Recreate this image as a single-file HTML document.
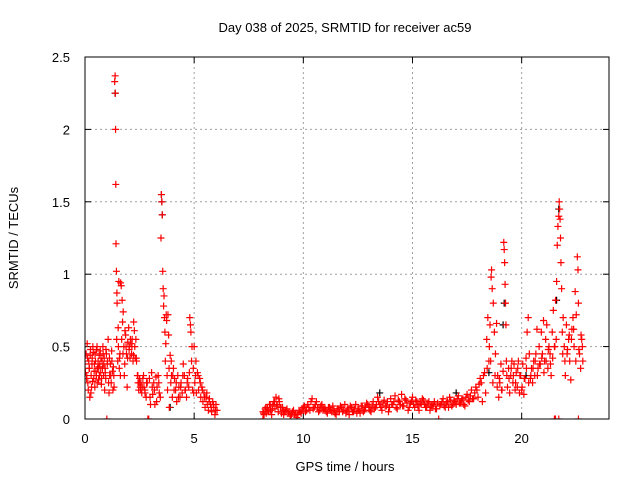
<!DOCTYPE html>
<html><head><meta charset="utf-8"><style>
html,body{margin:0;padding:0;background:#fff;}
svg{display:block;font-family:"Liberation Sans",sans-serif;}
</style></head><body>
<svg id="chart" width="640" height="480" viewBox="0 0 640 480">
<defs><clipPath id="clip"><rect x="85" y="57" width="524" height="362"/></clipPath></defs>
<text x="345" y="32" text-anchor="middle" font-size="13">Day 038 of 2025, SRMTID for receiver ac59</text>
<text x="345" y="471" text-anchor="middle" font-size="13">GPS time / hours</text>
<text transform="translate(18,238) rotate(-90)" text-anchor="middle" font-size="13">SRMTID / TECUs</text>
<g id="grid"></g>
<g id="axes"></g>
<g id="marks" clip-path="url(#clip)"></g>
<rect x="85" y="57" width="524" height="362" fill="none" stroke="#000" stroke-width="1"/>
</svg>
<script>
const xTicks=[0,5,10,15,20];
const yTicks=[0,0.5,1,1.5,2,2.5];
const yTickLabels=["0","0.5","1","1.5","2","2.5"];
const redHours=[0,.05,.08,.1,.13,.17,.2,.22,.25,.28,.3,.33,.36,.4,.43,.46,.5,.53,.56,.6,.63,.66,.7,.73,.76,.8,.83,.86,.9,.93,.96,1.03,1.06,1.1,1.13,1.16,1.2,1.23,1.26,1.3,1.33,1.36,1.38,1.39,1.4,1.41,1.42,1.44,1.46,1.47,1.5,1.52,1.55,1.57,1.6,1.63,1.66,1.7,1.72,1.75,1.78,1.8,1.83,1.86,1.9,1.93,1.96,2,2.03,2.06,2.1,2.13,2.16,2.2,2.23,2.26,2.3,2.33,2.36,2.4,2.43,2.46,2.5,2.53,2.56,2.6,2.65,2.7,2.75,2.8,2.85,2.95,3,3.05,3.1,3.15,3.2,3.25,3.3,3.35,3.4,3.45,3.48,3.5,3.52,3.54,3.56,3.58,3.6,3.62,3.64,3.66,3.68,3.7,3.72,3.74,3.76,3.8,3.83,3.86,3.9,3.93,3.96,4,4.05,4.1,4.15,4.2,4.25,4.3,4.35,4.4,4.45,4.5,4.55,4.6,4.65,4.7,4.75,4.8,4.83,4.85,4.88,4.9,4.93,4.96,5,5.03,5.06,5.1,5.15,5.2,5.25,5.3,5.35,5.4,5.45,5.5,5.55,5.6,5.65,5.7,5.75,5.8,5.85,5.9,5.95,6,6.05,
8.15,8.2,8.25,8.3,8.35,8.4,8.45,8.5,8.55,8.6,8.65,8.7,8.75,8.8,8.85,8.9,8.95,9,9.05,9.1,9.2,9.3,9.4,9.5,9.6,9.7,9.8,9.9,10,10.1,10.2,10.3,10.4,10.5,10.6,10.7,10.8,10.9,11,11.1,11.2,11.3,11.4,11.5,11.6,11.7,11.8,11.9,12,12.1,12.2,12.3,12.4,12.5,12.6,12.7,12.8,12.9,13,13.1,13.2,13.3,13.4,13.5,13.6,13.7,13.8,13.9,14,14.1,14.2,14.3,14.4,14.5,14.6,14.7,14.8,14.9,15,15.1,15.2,15.3,15.4,15.5,15.6,15.7,15.8,15.9,16,16.1,16.3,16.4,16.5,16.6,16.7,16.8,16.9,17,17.1,17.2,17.3,17.4,17.5,17.6,17.7,17.8,17.9,18,18.1,18.2,18.3,18.35,18.4,18.45,18.5,18.55,18.6,18.62,18.65,18.7,18.75,18.8,18.85,18.9,18.95,19,19.05,19.1,19.15,19.18,19.2,19.22,19.24,19.26,19.28,19.3,19.35,19.4,19.45,19.5,19.55,19.6,19.65,19.7,19.75,19.8,19.85,19.9,19.95,20,20.05,20.1,20.15,20.2,20.25,20.3,20.35,20.4,20.45,20.5,20.55,20.6,20.65,20.7,20.75,20.8,20.85,20.9,20.95,21,21.05,21.1,21.15,21.2,21.25,21.3,21.35,21.4,21.45,21.5,21.55,21.6,21.63,21.66,21.7,21.72,21.74,21.76,21.78,21.8,21.83,21.86,21.9,21.95,22,22.05,22.1,22.15,22.2,22.25,22.3,22.35,22.4,22.45,22.5,22.55,22.58,22.6,22.65,22.7,22.75,22.8,
1,2.88,2.92,8.15,16.2,21.5,21.55,21.7,22.6];
const redSrmtid=[.38,.45,.3,.52,.25,.4,.35,.15,.48,.3,.22,.42,.5,.28,.38,.45,.33,.48,.25,.4,.36,.3,.47,.42,.28,.35,.45,.38,.2,.32,.48,.4,.55,.18,.3,.38,.25,.4,.33,.36,.22,2.33,2.37,2.25,2,1.62,1.21,1.02,.87,.8,.4,.63,.95,.35,.45,.94,.92,.82,.67,.74,.5,.3,.61,.58,.45,.22,.53,.63,.5,.42,.52,.45,.55,.4,.67,.61,.42,.55,.4,.3,.25,.2,.28,.22,.25,.18,.28,.22,.18,.15,.25,.28,.1,.32,.17,.25,.1,.29,.22,.3,.18,.15,1.25,1.55,1.5,1.41,1.02,.9,.78,.85,.7,.6,.4,.52,.72,.68,.3,.72,.58,.08,.44,.25,.3,.15,.35,.28,.2,.12,.3,.22,.15,.25,.18,.38,.3,.2,.15,.28,.22,.7,.65,.6,.4,.5,.2,.35,.5,.25,.3,.18,.32,.2,.28,.15,.22,.12,.18,.08,.15,.1,.06,.14,.1,.05,.12,.08,.03,.1,.06,
.05,.03,.07,.04,.08,.05,.1,.06,.03,.09,.12,.07,.15,.1,.05,.12,.08,.04,.08,.03,.06,.04,.02,.05,.03,.01,.06,.04,.08,.05,.1,.06,.14,.08,.12,.05,.09,.06,.07,.04,.08,.05,.06,.03,.07,.09,.05,.1,.06,.03,.08,.05,.1,.07,.04,.09,.06,.11,.08,.05,.12,.08,.15,.1,.06,.13,.09,.05,.14,.1,.16,.07,.12,.17,.09,.13,.06,.11,.15,.08,.12,.06,.1,.13,.08,.11,.06,.09,.12,.07,.1,.14,.08,.12,.15,.09,.13,.1,.16,.11,.14,.09,.17,.12,.2,.14,.22,.15,.28,.12,.32,.18,.55,.7,.4,.65,.98,1.03,.9,.8,.6,.45,.66,.3,.15,.25,.38,.2,.33,1.22,1.17,1.08,.93,.8,.65,.4,.22,.35,.18,.3,.4,.25,.38,.2,.32,.22,.4,.18,.3,.2,.38,.17,.28,.42,.6,.7,.45,.28,.35,.25,.4,.3,.45,.62,.35,.5,.38,.6,.45,.68,.4,.55,.65,.35,.5,.45,.3,.6,.75,.5,.82,.95,1.2,1.33,1.4,1.5,1.45,1.38,1.25,1.08,.9,.6,.7,.5,.3,.65,.48,.55,.4,.27,.62,.7,.5,.88,.72,1.12,1.03,.8,.45,.35,.55,.4,
0,0,0,0,0,0,0,0,0];
const redHours2=[.02,.07,.12,.15,.19,.24,.27,.32,.35,.38,.42,.45,.48,.52,.55,.58,.62,.65,.68,.72,.75,.78,.82,.85,.88,.92,.95,.98,1.02,1.08,1.12,1.18,1.22,1.28,1.32,1.45,1.53,1.58,1.62,1.68,1.74,1.82,1.88,1.95,2.02,2.08,2.15,2.22,2.28,2.35,2.42,2.48,2.55,2.62,2.68,2.74,2.82,2.98,3.08,3.18,3.28,3.38,3.78,3.85,3.95,4.02,4.08,4.18,4.28,4.38,4.48,4.58,4.68,4.78,4.98,5.08,5.18,5.28,5.38,5.48,5.58,5.68,5.78,5.88,5.98,
8.18,8.28,8.38,8.48,8.58,8.68,8.78,8.88,8.98,9.08,9.15,9.25,9.35,9.45,9.55,9.65,9.75,9.85,9.95,10.05,10.15,10.25,10.35,10.45,10.55,10.65,10.75,10.85,10.95,11.05,11.15,11.25,11.35,11.45,11.55,11.65,11.75,11.85,11.95,12.05,12.15,12.25,12.35,12.45,12.55,12.65,12.75,12.85,12.95,13.05,13.15,13.25,13.35,13.45,13.55,13.65,13.75,13.85,13.95,14.05,14.15,14.25,14.35,14.45,14.55,14.65,14.75,14.85,14.95,15.05,15.15,15.25,15.35,15.45,15.55,15.65,15.75,15.85,15.95,16.05,16.15,16.25,16.35,16.45,16.55,16.65,16.75,16.85,16.95,17.05,17.15,17.25,17.35,17.45,17.55,17.65,17.75,17.85,17.95,18.05,18.15,18.25,18.42,18.52,18.58,18.68,18.78,18.88,18.98,19.08,19.32,19.42,19.52,19.62,19.72,19.82,19.92,20.02,20.12,20.22,20.32,20.42,20.52,20.62,20.72,20.82,20.92,21.02,21.12,21.22,21.32,21.42,21.52,21.58,21.88,21.98,22.08,22.18,22.28,22.38,22.48,22.62,22.72,22.78];
const redSrmtid2=[.32,.28,.42,.2,.35,.44,.18,.38,.26,.46,.33,.22,.4,.3,.5,.35,.27,.44,.38,.32,.24,.4,.5,.3,.42,.35,.28,.45,.38,.25,.42,.3,.47,.2,.3,.55,.5,.42,.3,.55,.45,.38,.5,.42,.48,.55,.5,.44,.5,.42,.3,.25,.2,.22,.3,.2,.25,.15,.22,.2,.12,.25,.2,.35,.4,.3,.2,.25,.15,.22,.3,.2,.25,.32,.18,.4,.3,.25,.2,.15,.18,.12,.08,.1,.06,.04,
.08,.06,.1,.07,.12,.09,.14,.08,.06,.05,.07,.05,.03,.06,.04,.03,.05,.07,.09,.06,.08,.12,.07,.1,.08,.06,.1,.07,.05,.08,.06,.09,.04,.07,.05,.08,.06,.04,.07,.09,.05,.07,.04,.06,.09,.05,.08,.1,.06,.09,.07,.1,.12,.08,.11,.09,.12,.08,.1,.12,.08,.13,.1,.09,.14,.11,.08,.12,.1,.13,.09,.11,.14,.1,.08,.12,.09,.1,.07,.11,.09,.12,.09,.11,.08,.13,.1,.12,.14,.11,.13,.1,.15,.13,.16,.14,.18,.2,.24,.25,.3,.35,.5,.4,.25,.3,.22,.28,.2,.3,.28,.35,.3,.25,.35,.3,.22,.28,.35,.25,.3,.35,.4,.3,.38,.42,.32,.4,.48,.38,.42,.5,.55,.45,.4,.45,.58,.55,.62,.4,.48,.58,.5,.6,.45,.65,.58,.48,.5];
const blackHours=[1.38,3.5,3.52,3.54,3.9,13.5,17,18.5,19.15,19.2,20.2,21.6,21.7];
const blackSrmtid=[2.25,1.55,1.5,1.41,.08,.18,.18,.32,.65,.8,.3,.82,1.45];

const X0=85,X1=609,Y0=419,Y1=57,XMAX=24,YMAX=2.5;
const xs=v=>X0+(X1-X0)*v/XMAX;
const ys=v=>Y0-(Y0-Y1)*v/YMAX;
const NS="http://www.w3.org/2000/svg";
function mk(tag,attrs,parent){const e=document.createElementNS(NS,tag);for(const k in attrs)e.setAttribute(k,attrs[k]);parent.appendChild(e);return e;}
const grid=document.getElementById('grid'),axes=document.getElementById('axes'),marks=document.getElementById('marks');
xTicks.forEach((t,i)=>{
  const x=xs(t);
  if(t>0){const g=mk('line',{x1:x,y1:Y0,x2:x,y2:Y1,stroke:'#a0a0a0','stroke-dasharray':'2,3'},grid);
  
  }
  mk('line',{x1:x,y1:Y0,x2:x,y2:Y0-6,stroke:'#000'},axes);
  mk('line',{x1:x,y1:Y1,x2:x,y2:Y1+6,stroke:'#000'},axes);
  const tx=mk('text',{x:x,y:443,'text-anchor':'middle','font-size':'13'},axes);
  tx.textContent=String(t);
  
  
});
yTicks.forEach((t,i)=>{
  const y=ys(t);
  if(t>0&&t<YMAX){const g=mk('line',{x1:X0,y1:y,x2:X1,y2:y,stroke:'#a0a0a0','stroke-dasharray':'2,3'},grid);
  
  }
  mk('line',{x1:X0,y1:y,x2:X0+6,y2:y,stroke:'#000'},axes);
  mk('line',{x1:X1,y1:y,x2:X1-6,y2:y,stroke:'#000'},axes);
  const tx=mk('text',{x:70,y:y+5,'text-anchor':'end','font-size':'13'},axes);
  tx.textContent=yTickLabels[i];
  
  
});
function plus(hours,vals,color,name){
  let d='';
  hours.forEach((h,i)=>{const x=xs(h),y=ys(vals[i]);d+=`M${x-3.5},${y}h7M${x},${y-3.5}v7`;});
  const p=mk('path',{d:d,stroke:color,'stroke-width':'1.2',fill:'none'},marks);
  
  
}
plus(blackHours,blackSrmtid,'#000','black-series-points');
plus(redHours,redSrmtid,'#ff0000','red-series-points');
plus(redHours2,redSrmtid2,'#ff0000','red-series-points-extra');
</script>
</body></html>
